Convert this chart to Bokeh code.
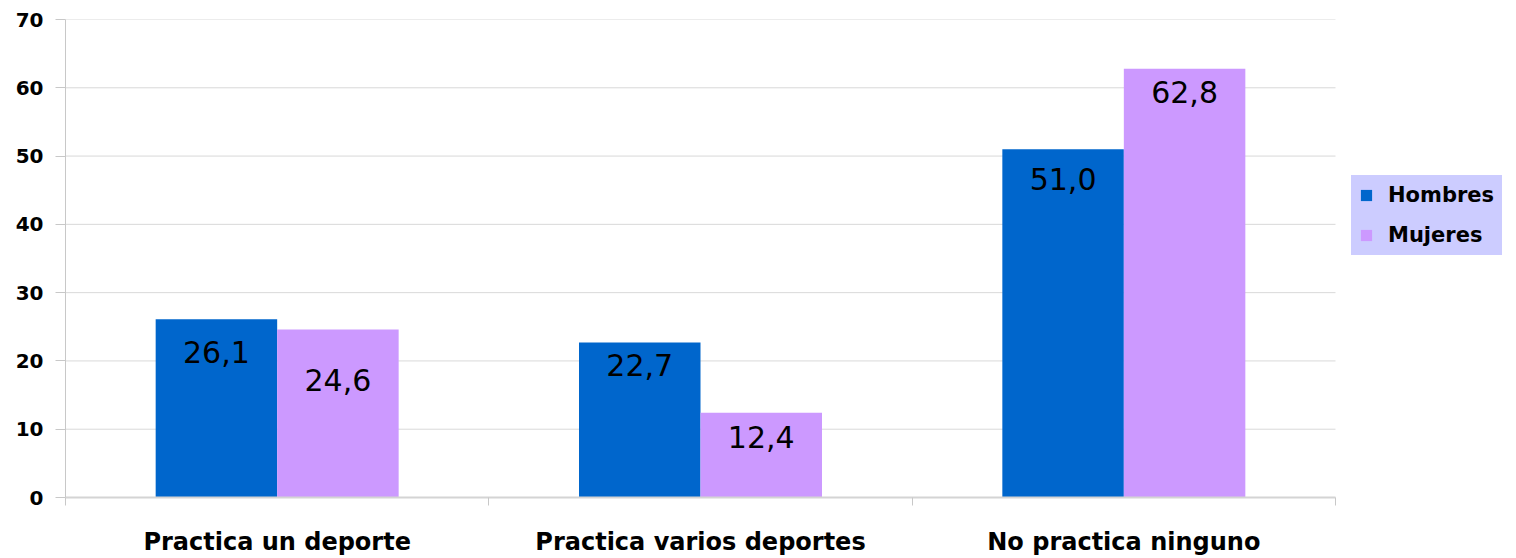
from bokeh.plotting import figure
from bokeh.models import (ColumnDataSource, Range1d, LinearAxis, FixedTicker,
                          Legend, LegendItem)
from bokeh.core.properties import value
from bokeh.embed import file_html
from bokeh.resources import INLINE

# ---- data ----
categories = ["Practica un deporte", "Practica varios deportes", "No practica ninguno"]
series = ["Hombres", "Mujeres"]
hombres = [26.1, 22.7, 51.0]
mujeres = [24.6, 12.4, 62.8]
y_ticks = [0, 10, 20, 30, 40, 50, 60, 70]

# ---- styles / layout ----
colors = {"Hombres": "#0066CC", "Mujeres": "#CC99FF"}
legend_bg = "#CCCCFF"
bar_w = 0.287
label_offsets = {"Hombres": [33, 23, 30], "Mujeres": [50, 24, 23]}
grid_col = "#d9d9d9"
W, H = 1516, 558
left, top, bottom = 65, 19, 60
plot_px = 1270            # pixel width of the category area
frame_px = W - left       # frame spans to the right edge (room for legend)
n = len(categories)
x_end = n * frame_px / plot_px

p = figure(width=W, height=H, output_backend="svg", toolbar_location=None,
           x_range=Range1d(0, x_end), y_range=Range1d(0, 70),
           x_axis_type=None, y_axis_type=None)
p.min_border_left = left
p.min_border_right = 0
p.min_border_top = top
p.min_border_bottom = bottom
p.outline_line_color = None
p.background_fill_color = "white"
p.border_fill_color = "white"
p.xgrid.visible = False
p.ygrid.visible = False

# horizontal grid lines over the category area only
p.segment(x0=[0] * len(y_ticks), x1=[n] * len(y_ticks), y0=y_ticks, y1=y_ticks,
          line_color=grid_col, line_width=1)

# y axis
yax = LinearAxis(ticker=FixedTicker(ticks=y_ticks))
yax.axis_line_color = "#c8c8c8"
yax.major_tick_line_color = "#c8c8c8"
yax.major_tick_out = 10
yax.major_tick_in = 0
yax.minor_tick_line_color = None
yax.major_label_text_font = "DejaVu Sans"
yax.major_label_text_font_style = "bold"
yax.major_label_text_font_size = "20px"
yax.major_label_text_color = "black"
yax.major_label_standoff = 12
p.add_layout(yax, "left")

# x axis (labels at centres, tick marks at category boundaries)
centers = [i + 0.5 for i in range(n)]
bounds = [i for i in range(n + 1)]
xax = LinearAxis(ticker=FixedTicker(ticks=centers, minor_ticks=bounds), bounds=(0, n))
xax.major_label_overrides = {c: lab for c, lab in zip(centers, categories)}
xax.axis_line_color = "#d4d4d4"
xax.axis_line_width = 2
xax.major_tick_line_color = None
xax.major_tick_out = 0
xax.major_tick_in = 0
xax.minor_tick_line_color = "#c8c8c8"
xax.minor_tick_out = 8
xax.minor_tick_in = 0
xax.major_label_text_font = "DejaVu Sans"
xax.major_label_text_font_style = "bold"
xax.major_label_text_font_size = "24px"
xax.major_label_text_color = "black"
xax.major_label_standoff = 22
p.add_layout(xax, "below")

renderers = {}
for k, (name, vals) in enumerate(zip(series, [hombres, mujeres])):
    shift = (k - 0.5) * bar_w
    xs = [c + shift for c in centers]
    src = ColumnDataSource(dict(
        x=xs, top=vals,
        label=[f"{v:.1f}".replace(".", ",") for v in vals],
        off=label_offsets[name]))
    r = p.vbar(x="x", top="top", bottom=0, width=bar_w, source=src,
               fill_color=colors[name], line_color=None)
    renderers[name] = r
    p.text(x="x", y="top", text="label", y_offset="off", source=src,
           text_font=value("DejaVu Sans"), text_font_size="30px",
           text_color="black", text_align="center", text_baseline="middle")

legend = Legend(items=[LegendItem(label=s, renderers=[renderers[s]]) for s in series],
                location=(1286, 242))
legend.background_fill_color = legend_bg
legend.background_fill_alpha = 1.0
legend.border_line_color = legend_bg
legend.border_line_width = 1
legend.label_text_font = "DejaVu Sans"
legend.label_text_font_style = "bold"
legend.label_text_font_size = "21px"
legend.label_text_color = "black"
legend.glyph_width = 14
legend.glyph_height = 14
legend.label_standoff = 15
legend.spacing = 16
legend.padding = 7
legend.margin = 0
p.add_layout(legend, "center")

open("out.html", "w").write(file_html(p, INLINE))
